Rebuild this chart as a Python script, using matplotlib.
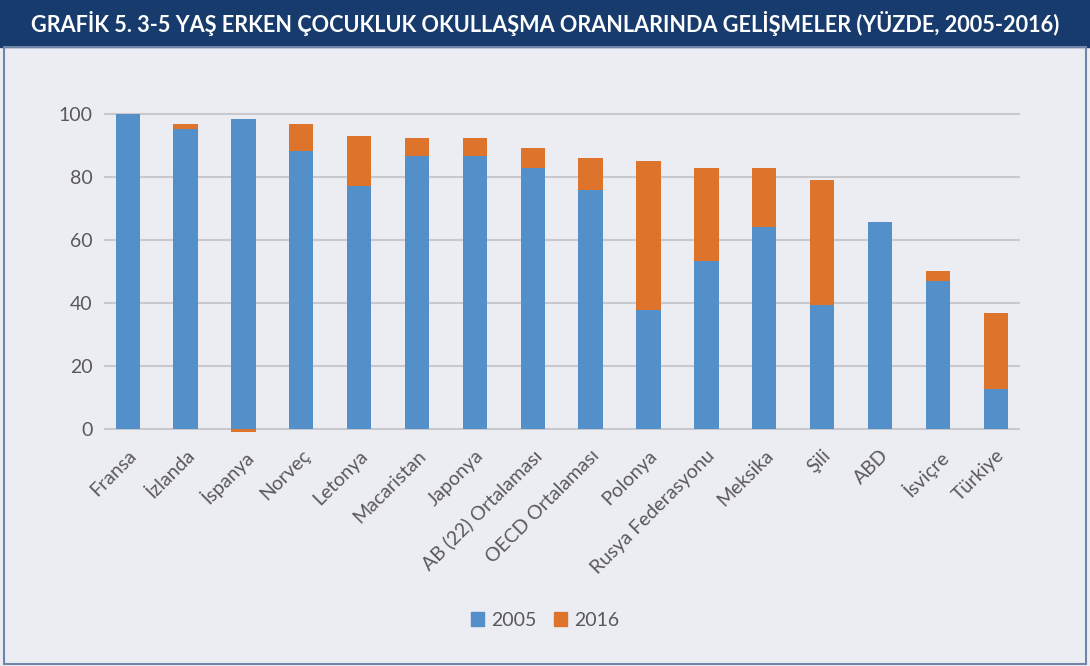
import matplotlib.pyplot as plt
from matplotlib.patches import Rectangle, Patch

ulkeler = ["Fransa", "İzlanda", "İspanya", "Norveç", "Letonya", "Macaristan",
           "Japonya", "AB (22) Ortalaması", "OECD Ortalaması", "Polonya",
           "Rusya Federasyonu", "Meksika", "Şili", "ABD", "İsviçre", "Türkiye"]
oran_2005 = [100, 95.2, 98.4, 88.3, 77.2, 86.8, 86.8, 83.0, 75.9, 37.7,
             53.2, 64.1, 39.3, 65.7, 47.0, 12.7]
# 2016 serisi: 2005'e gore degisim (grafikte ust uste yigilmis)
degisim_2016 = [0, 1.6, -1.0, 8.5, 15.8, 5.5, 5.5, 6.1, 10.0, 47.5,
                29.7, 18.8, 39.7, 0, 3.2, 24.2]

mavi = "#5390ca"
turuncu = "#de742c"
zemin = "#ecedf3"
lacivert = "#173b6d"
yazi = "#595959"

plt.rcParams["font.family"] = ["Lato", "DejaVu Sans"]

fig = plt.figure(figsize=(10.9, 6.66), dpi=100, facecolor=zemin)
ax = fig.add_axes([0.0954, 0.3416, 0.8404, 0.4967], facecolor=zemin)

x = list(range(len(ulkeler)))
alt = [b if d >= 0 else 0 for b, d in zip(oran_2005, degisim_2016)]
ax.bar(x, oran_2005, width=0.42, color=mavi, linewidth=0, zorder=3)
ax.bar(x, degisim_2016, bottom=alt, width=0.42, color=turuncu, linewidth=0,
       zorder=3)

ax.set_xlim(-0.41, len(ulkeler) - 0.58)
ax.set_ylim(-3, 102)
ax.set_yticks([0, 20, 40, 60, 80, 100])
ax.yaxis.grid(True, color="#c9c9cd", linewidth=1.5, zorder=0)
ax.set_axisbelow(True)
for s in ax.spines.values():
    s.set_visible(False)
ax.tick_params(axis="both", length=0, labelsize=14, labelcolor=yazi)
ax.tick_params(axis="y", pad=8)
ax.set_xticks(x)
ax.set_xticklabels(ulkeler, rotation=45, ha="right", rotation_mode="anchor")
ax.tick_params(axis="x", pad=6)

# baslik cubugu
fig.patches.append(Rectangle((0, 1 - 47 / 666), 1, 47 / 666,
                             transform=fig.transFigure, color=lacivert, zorder=0))
fig.text(0.5, 1 - 24 / 666,
         "GRAFİK 5. 3-5 YAŞ ERKEN ÇOCUKLUK OKULLAŞMA ORANLARINDA GELİŞMELER (YÜZDE, 2005-2016)",
         color="white", fontsize=15.6, fontweight="bold", ha="center", va="center")
# cerceve
fig.patches.append(Rectangle((4 / 1090, 2 / 666), 1082 / 1090, 1 - 49 / 666,
                             transform=fig.transFigure, fill=False,
                             edgecolor="#6f86a8", linewidth=1.5))

fig.legend(handles=[Patch(color=mavi, label="2005"), Patch(color=turuncu, label="2016")],
           loc="center", bbox_to_anchor=(0.5, 1 - 620 / 666), ncol=2, frameon=False,
           fontsize=14, labelcolor=yazi, handlelength=0.7, handleheight=0.7,
           handletextpad=0.35, columnspacing=0.9)

fig.savefig("out.png", dpi=100, facecolor=zemin)
